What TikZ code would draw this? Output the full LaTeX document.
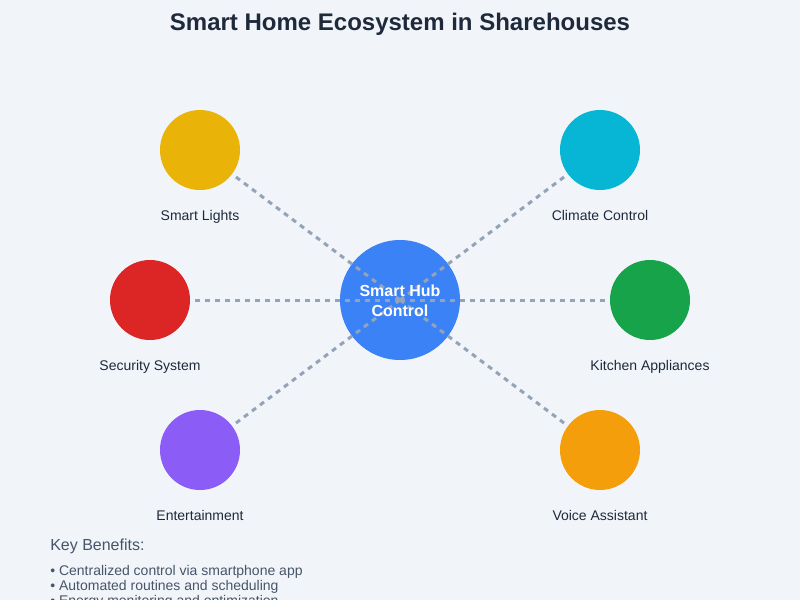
\documentclass[tikz,border=0pt]{standalone}
\usepackage{fontspec}
\setmainfont{Liberation Sans}
\usetikzlibrary{calc}
\definecolor{bg}{HTML}{F1F5F9}
\definecolor{titlec}{HTML}{1E293B}
\definecolor{labelc}{HTML}{1E293B}
\definecolor{keyc}{HTML}{475569}
\definecolor{linec}{HTML}{94A3B8}
\definecolor{hubc}{HTML}{3B82F6}
\definecolor{lightsc}{HTML}{EAB308}
\definecolor{climatec}{HTML}{06B6D4}
\definecolor{securityc}{HTML}{DC2626}
\definecolor{kitchenc}{HTML}{16A34A}
\definecolor{entc}{HTML}{8B5CF6}
\definecolor{voicec}{HTML}{F59E0B}
\begin{document}
\begin{tikzpicture}[x=0.75pt,y=-0.75pt,
  device/.style={circle,minimum size=60pt,inner sep=0pt,fill=#1},
  devlabel/.style={anchor=base,text=labelc,font=\fontsize{10.5pt}{12pt}\selectfont,inner sep=0pt},
  link/.style={draw=linec,line width=2.25pt,dash pattern=on 3.75pt off 3.75pt},
  bullet/.style={anchor=base west,text=keyc,font=\fontsize{10.5pt}{12pt}\selectfont,inner sep=0pt}]
\clip (0,0) rectangle (800,600);
\fill[bg] (0,0) rectangle (800,600);
\node[anchor=base,text=titlec,font=\bfseries\fontsize{18pt}{21pt}\selectfont,inner sep=0pt] (title) at (400,30) {Smart Home Ecosystem in Sharehouses};
% hub
\node[circle,minimum size=90pt,inner sep=0pt,fill=hubc] (hub) at (400,300) {};
% devices
\node[device=lightsc] (lights) at (200,150) {};
\node[device=climatec] (climate) at (600,150) {};
\node[device=securityc] (security) at (150,300) {};
\node[device=kitchenc] (kitchen) at (650,300) {};
\node[device=entc] (ent) at (200,450) {};
\node[device=voicec] (voice) at (600,450) {};
% connectors
\draw[link] ($(lights)!45/250!(hub)$) -- (hub.center);
\draw[link] ($(climate)!45/250!(hub)$) -- (hub.center);
\draw[link] ($(security)!45/250!(hub)$) -- (hub.center);
\draw[link] ($(kitchen)!45/250!(hub)$) -- (hub.center);
\draw[link] ($(ent)!45/250!(hub)$) -- (hub.center);
\draw[link] ($(voice)!45/250!(hub)$) -- (hub.center);
% hub text
\node[anchor=base,text=white,font=\bfseries\fontsize{12pt}{14pt}\selectfont,inner sep=0pt] (hubt1) at (400,296) {Smart Hub};
\node[anchor=base,text=white,font=\bfseries\fontsize{12pt}{14pt}\selectfont,inner sep=0pt] (hubt2) at (400,316) {Control};
% labels
\node[devlabel] (lightsl) at (200,220) {Smart Lights};
\node[devlabel] (climatel) at (600,220) {Climate Control};
\node[devlabel] (securityl) at (150,370) {Security System};
\node[devlabel] (kitchenl) at (650,370) {Kitchen Appliances};
\node[devlabel] (entl) at (200,520) {Entertainment};
\node[devlabel] (voicel) at (600,520) {Voice Assistant};
% key benefits
\node[anchor=base west,text=keyc,font=\fontsize{12pt}{14pt}\selectfont,inner sep=0pt] (key) at (50,550) {Key Benefits:};
\node[bullet] (b1) at (50,575) {• Centralized control via smartphone app};
\node[bullet] (b2) at (50,590) {• Automated routines and scheduling};
\node[bullet] (b3) at (50,605) {• Energy monitoring and optimization};
\end{tikzpicture}
\end{document}
